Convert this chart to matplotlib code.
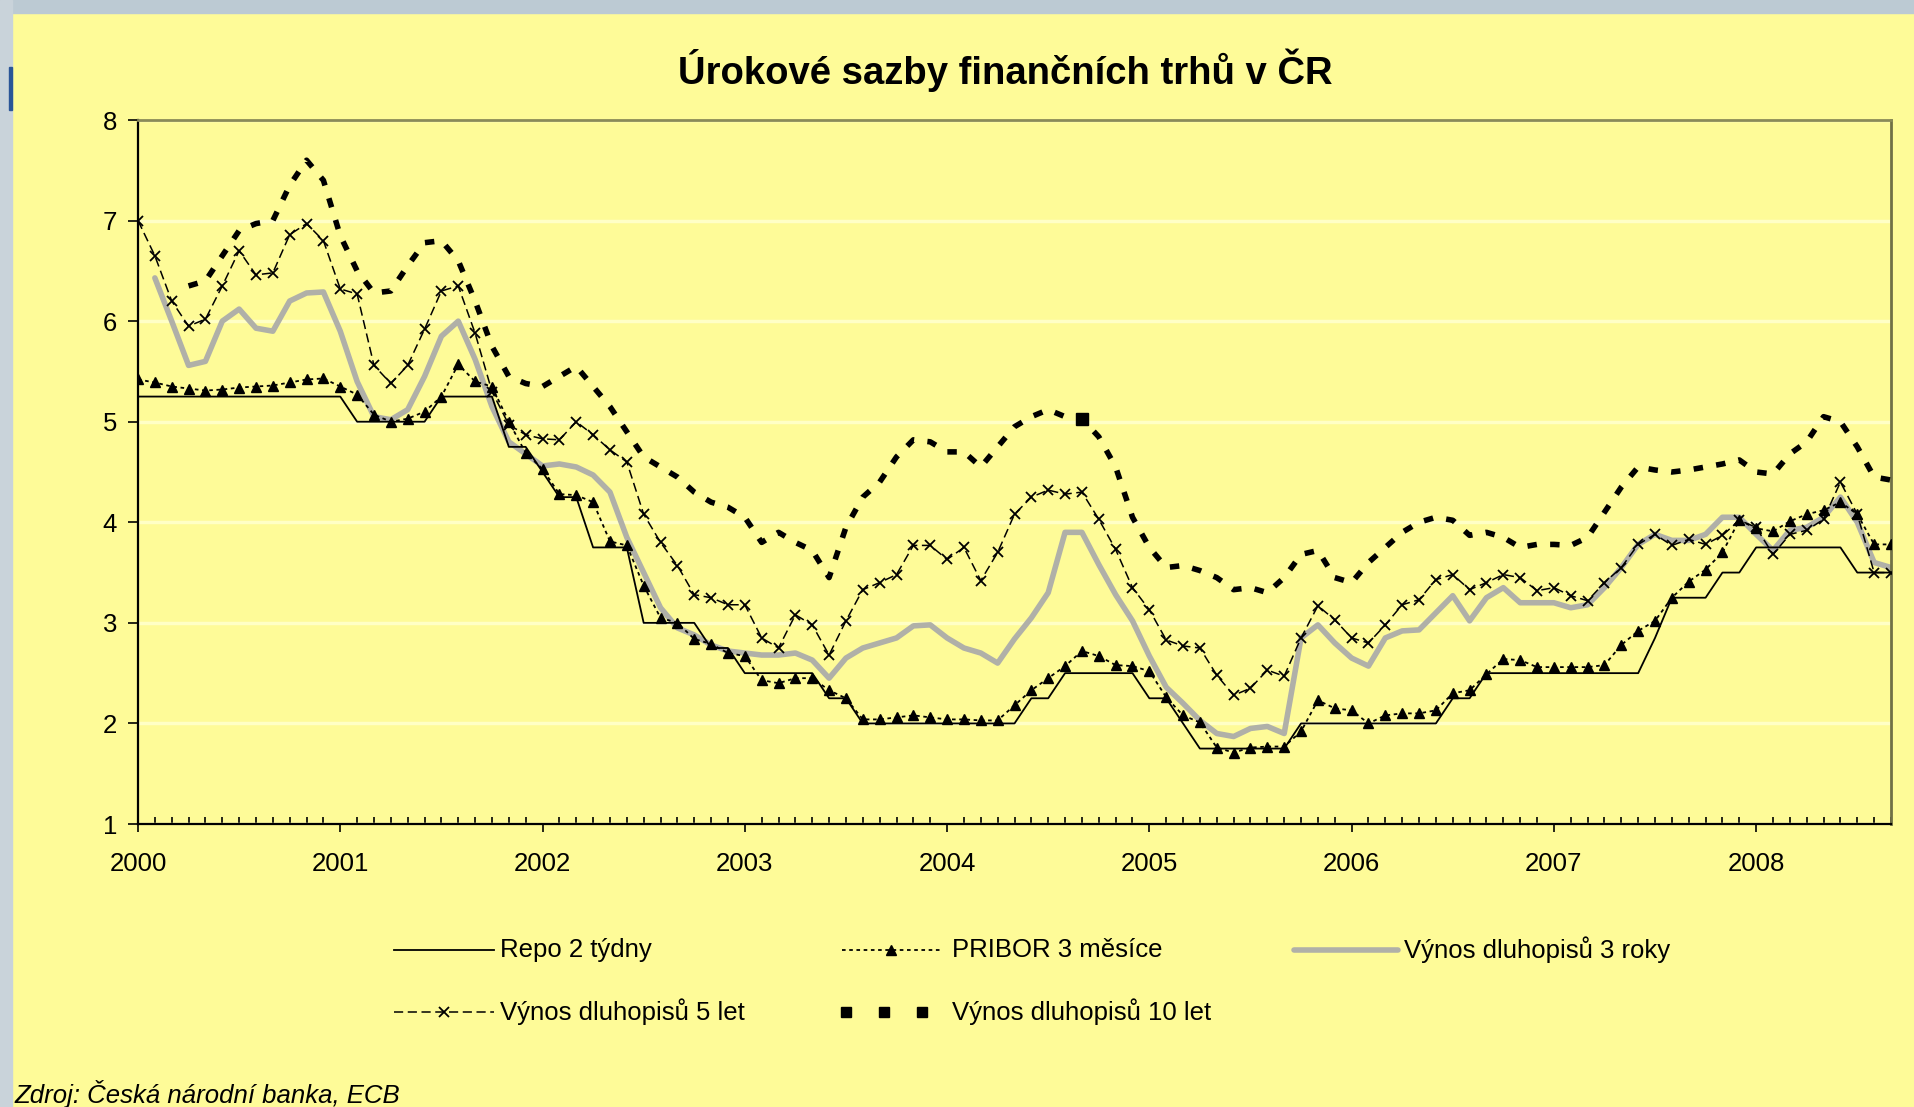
import numpy as np
import matplotlib
matplotlib.use('Agg')
import matplotlib.pyplot as plt
from matplotlib.lines import Line2D
from matplotlib.patches import Rectangle

plt.rcParams['font.family'] = ['Liberation Sans', 'DejaVu Sans']

# ── DATA (monthly, Jan 2000 .. Sep 2008) ──────────────────────────────────────
YEARS = ['2000', '2001', '2002', '2003', '2004', '2005', '2006', '2007', '2008']

repo = [5.25, 5.25, 5.25, 5.25, 5.25, 5.25, 5.25, 5.25, 5.25, 5.25, 5.25, 5.25,
        5.25, 5.0, 5.0, 5.0, 5.0, 5.0, 5.25, 5.25, 5.25, 5.25, 4.75, 4.75,
        4.5, 4.25, 4.25, 3.75, 3.75, 3.75, 3.0, 3.0, 3.0, 3.0, 2.75, 2.75,
        2.5, 2.5, 2.5, 2.5, 2.5, 2.25, 2.25, 2.0, 2.0, 2.0, 2.0, 2.0,
        2.0, 2.0, 2.0, 2.0, 2.0, 2.25, 2.25, 2.5, 2.5, 2.5, 2.5, 2.5,
        2.25, 2.25, 2.0, 1.75, 1.75, 1.75, 1.75, 1.75, 1.75, 2.0, 2.0, 2.0,
        2.0, 2.0, 2.0, 2.0, 2.0, 2.0, 2.25, 2.25, 2.5, 2.5, 2.5, 2.5,
        2.5, 2.5, 2.5, 2.5, 2.5, 2.5, 2.85, 3.25, 3.25, 3.25, 3.5, 3.5,
        3.75, 3.75, 3.75, 3.75, 3.75, 3.75, 3.5, 3.5, 3.5]

pribor = [5.42, 5.39, 5.35, 5.33, 5.31, 5.32, 5.34, 5.35, 5.36, 5.39, 5.42, 5.43,
          5.35, 5.27, 5.07, 5.0, 5.03, 5.1, 5.25, 5.57, 5.4, 5.35, 5.0, 4.69,
          4.53, 4.28, 4.27, 4.2, 3.81, 3.77, 3.37, 3.05, 3.0, 2.84, 2.79, 2.7,
          2.67, 2.43, 2.4, 2.45, 2.45, 2.33, 2.25, 2.04, 2.04, 2.06, 2.08, 2.06,
          2.04, 2.04, 2.03, 2.03, 2.18, 2.33, 2.45, 2.57, 2.72, 2.67, 2.58, 2.57,
          2.52, 2.26, 2.08, 2.01, 1.76, 1.71, 1.76, 1.77, 1.77, 1.92, 2.23, 2.15,
          2.13, 2.0, 2.08, 2.1, 2.1, 2.13, 2.3, 2.33, 2.49, 2.64, 2.63, 2.56,
          2.56, 2.56, 2.56, 2.58, 2.78, 2.92, 3.02, 3.25, 3.41, 3.53, 3.7, 4.02,
          3.94, 3.91, 4.01, 4.08, 4.12, 4.2, 4.08, 3.78, 3.78]

bond3 = [np.nan, 6.43, 6.0, 5.56, 5.6, 6.0, 6.12, 5.93, 5.9, 6.2, 6.28, 6.29,
         5.9, 5.4, 5.05, 5.02, 5.12, 5.45, 5.85, 6.0, 5.62, 5.15, 4.8, 4.68,
         4.56, 4.58, 4.55, 4.47, 4.3, 3.85, 3.5, 3.15, 2.95, 2.88, 2.78, 2.72,
         2.7, 2.68, 2.68, 2.7, 2.63, 2.45, 2.65, 2.75, 2.8, 2.85, 2.97, 2.98,
         2.85, 2.75, 2.7, 2.6, 2.84, 3.05, 3.3, 3.9, 3.9, 3.58, 3.28, 3.02,
         2.67, 2.36, 2.2, 2.03, 1.9, 1.87, 1.95, 1.97, 1.9, 2.85, 2.98, 2.8,
         2.65, 2.57, 2.85, 2.92, 2.93, 3.1, 3.27, 3.02, 3.25, 3.35, 3.2, 3.2,
         3.2, 3.15, 3.18, 3.35, 3.55, 3.78, 3.88, 3.82, 3.82, 3.88, 4.05, 4.05,
         3.88, 3.72, 3.92, 3.95, 4.05, 4.25, 4.0, 3.6, 3.55]

bond5 = [7.0, 6.65, 6.2, 5.95, 6.02, 6.35, 6.7, 6.46, 6.48, 6.86, 6.97, 6.8,
         6.32, 6.27, 5.56, 5.38, 5.56, 5.92, 6.3, 6.35, 5.88, 5.3, 4.97, 4.87,
         4.83, 4.82, 5.0, 4.87, 4.72, 4.6, 4.08, 3.8, 3.57, 3.28, 3.25, 3.18,
         3.18, 2.85, 2.75, 3.08, 2.98, 2.68, 3.02, 3.33, 3.4, 3.48, 3.77, 3.77,
         3.63, 3.75, 3.42, 3.7, 4.08, 4.25, 4.32, 4.28, 4.3, 4.03, 3.73, 3.35,
         3.13, 2.83, 2.77, 2.75, 2.48, 2.28, 2.35, 2.53, 2.47, 2.85, 3.17, 3.03,
         2.85, 2.8, 2.98, 3.18, 3.23, 3.43, 3.48, 3.33, 3.4, 3.48, 3.45, 3.32,
         3.35, 3.27, 3.22, 3.4, 3.55, 3.78, 3.88, 3.77, 3.83, 3.78, 3.87, 4.02,
         3.95, 3.68, 3.88, 3.92, 4.03, 4.4, 4.08, 3.5, 3.5]

bond10 = [np.nan, np.nan, np.nan, 6.35, 6.4, 6.65, 6.9, 6.97, 7.0, 7.35, 7.6, 7.4,
          6.85, 6.5, 6.28, 6.3, 6.55, 6.78, 6.8, 6.6, 6.2, 5.75, 5.45, 5.38,
          5.35, 5.45, 5.55, 5.35, 5.15, 4.9, 4.65, 4.55, 4.45, 4.3, 4.2, 4.15,
          4.05, 3.8, 3.9, 3.8, 3.72, 3.45, 3.95, 4.25, 4.4, 4.65, 4.82, 4.8,
          4.7, 4.7, 4.55, 4.75, 4.95, 5.05, 5.12, 5.05, 5.03, 4.85, 4.55, 4.05,
          3.75, 3.55, 3.57, 3.52, 3.45, 3.33, 3.35, 3.3, 3.45, 3.68, 3.72, 3.45,
          3.4, 3.6, 3.75, 3.9, 4.0, 4.05, 4.02, 3.87, 3.9, 3.85, 3.75, 3.78,
          3.78, 3.77, 3.85, 4.1, 4.35, 4.55, 4.52, 4.5, 4.52, 4.55, 4.58, 4.62,
          4.5, 4.48, 4.68, 4.8, 5.05, 5.0, 4.75, 4.45, 4.42]

months = np.arange(len(repo))

# ── STYLE ─────────────────────────────────────────────────────────────────────
BG = '#FEFB98'
GRAY = '#B0B0A8'
repo_style = dict(color='black', lw=1.3)
pribor_style = dict(color='black', lw=1.3, ls=(0, (2, 2)), marker='^', ms=7)
bond3_style = dict(color=GRAY, lw=4.0, solid_capstyle='round')
bond5_style = dict(color='black', lw=1.1, ls=(0, (6, 3)), marker='x', ms=7, mew=1.3)
bond10_style = dict(color='black', lw=4, ls=(0, (1.7, 2.4)))

W, H = 1914, 1107
fig = plt.figure(figsize=(W / 100, H / 100), dpi=100)
fig.patch.set_facecolor(BG)

# window frame remnants around the slide
fig.add_artist(Rectangle((0, 1 - 13 / H), 1, 13 / H, transform=fig.transFigure,
                         color='#BCCAD3', zorder=0))
fig.add_artist(Rectangle((0, 0), 12 / W, 1, transform=fig.transFigure,
                         color='#C9D3DA', zorder=0))
fig.add_artist(Rectangle((9 / W, 1 - 110 / H), 3 / W, 43 / H, transform=fig.transFigure,
                         color='#2A5597', zorder=1))

ax = fig.add_axes([138 / W, 1 - 824 / H, (1891 - 138) / W, (824 - 120) / H])
ax.set_facecolor(BG)

ax.plot(months, bond3, zorder=2, **bond3_style)
ax.plot(months, repo, zorder=3, **repo_style)
ax.plot(months, pribor, zorder=4, **pribor_style)
ax.plot(months, bond5, zorder=4, **bond5_style)
ax.plot(months, bond10, zorder=5, marker='s', ms=8, markevery=[56], **bond10_style)

ax.set_xlim(0, 104)
ax.set_ylim(1, 8)
ax.set_yticks(range(1, 9))
ax.set_xticks(range(0, 97, 12))
ax.set_xticklabels(YEARS)
ax.set_xticks(range(0, 105), minor=True)
ax.yaxis.grid(True, color='#FFFFC6', lw=2.5)
ax.set_axisbelow(True)

ax.tick_params(axis='x', which='major', direction='out', length=6, width=1.2,
               pad=14, labelsize=18.5)
ax.tick_params(axis='x', which='minor', direction='in', length=5, width=1.2)
ax.tick_params(axis='y', which='major', direction='out', length=7, width=1.2,
               pad=8, labelsize=18.5)

for side in ['left', 'bottom']:
    ax.spines[side].set_linewidth(1.6)
    ax.spines[side].set_color('black')
ax.spines['top'].set_color('#8A8A58')
ax.spines['top'].set_linewidth(2)
ax.spines['right'].set_color('#707046')
ax.spines['right'].set_linewidth(2)

# ── TITLE / SOURCE ────────────────────────────────────────────────────────────
fig.text(1005 / W, 1 - 70 / H, 'Úrokové sazby finančních trhů v ČR',
         ha='center', va='center', fontsize=27.5, fontweight='bold')
fig.text(15 / W, 1 - 1094 / H, 'Zdroj: Česká národní banka, ECB',
         ha='left', va='center', fontsize=18.5, style='italic')

# ── LEGEND (two rows, placed like the original) ───────────────────────────────
legend_rows = [
    ('Repo 2 týdny', 394, 494, 500, 950, repo_style, None),
    ('PRIBOR 3 měsíce', 842, 940, 952, 950, pribor_style, [1]),
    ('Výnos dluhopisů 3 roky', 1294, 1398, 1404, 950, bond3_style, None),
    ('Výnos dluhopisů 5 let', 394, 494, 500, 1012, bond5_style, [1]),
    ('Výnos dluhopisů 10 let', 846, 922, 952, 1012,
     dict(color='black', ls='none', marker='s', ms=7), None),
]
for label, x0, x1, tx, y, style, mev in legend_rows:
    xs = [x0 / W, (x0 + x1) / 2 / W, x1 / W]
    ys = [1 - y / H] * 3
    st = dict(style)
    if mev is not None:
        st['markevery'] = mev
    fig.add_artist(Line2D(xs, ys, transform=fig.transFigure, **st))
    fig.text(tx / W, 1 - y / H, label, ha='left', va='center', fontsize=18.5)

fig.savefig('out.png', dpi=100, facecolor=BG)
